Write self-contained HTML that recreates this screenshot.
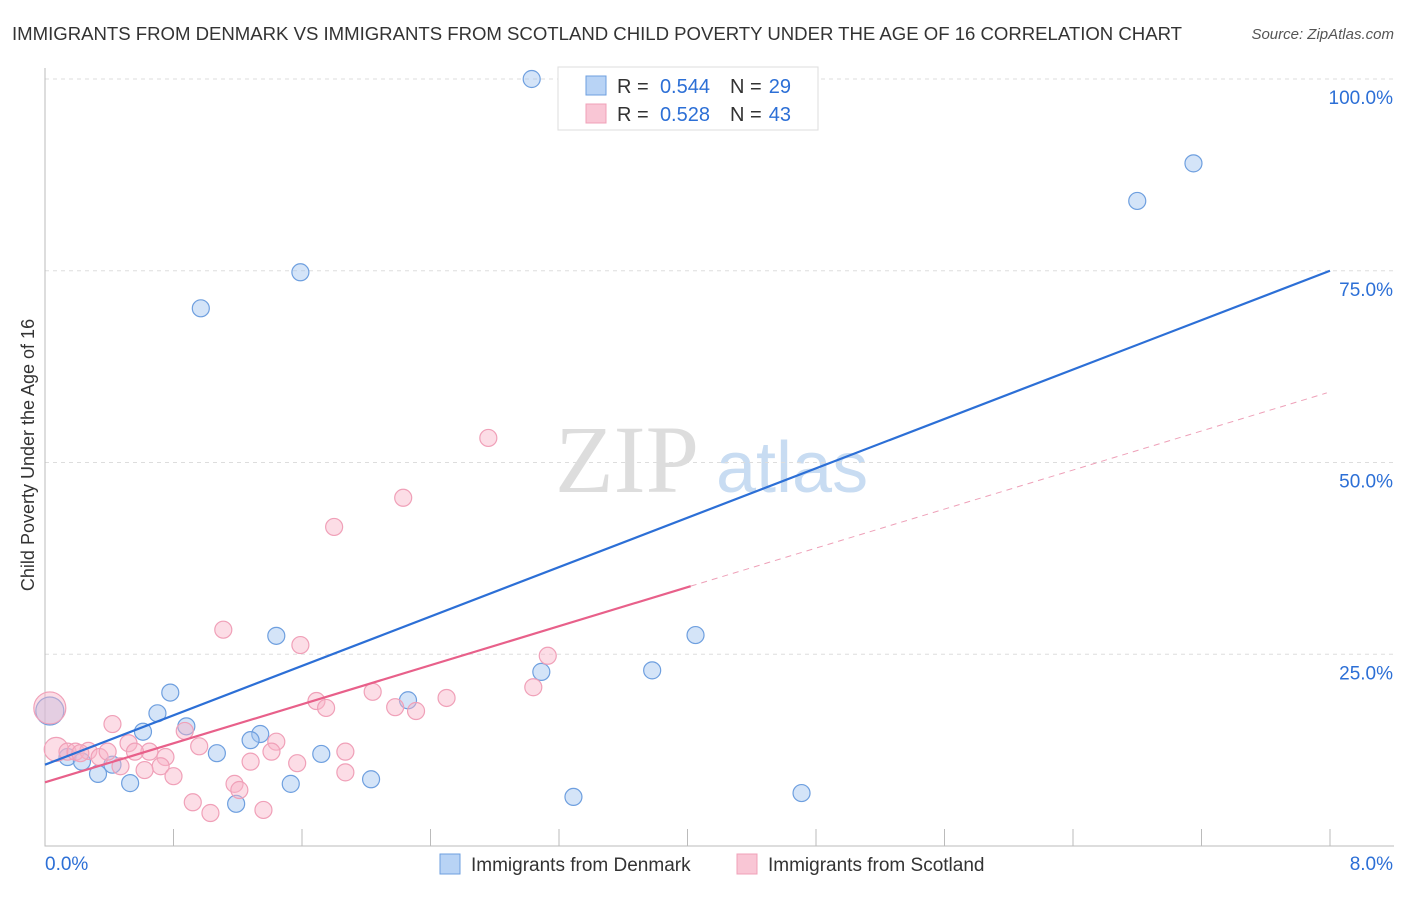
<!DOCTYPE html>
<html><head><meta charset="utf-8"><style>
body{margin:0;background:#fff;font-family:"Liberation Sans",sans-serif;}
</style></head><body>
<svg width="1406" height="892" xmlns="http://www.w3.org/2000/svg" id="chart">
<text x="12" y="40" font-size="18.6" fill="#333" textLength="1170">IMMIGRANTS FROM DENMARK VS IMMIGRANTS FROM SCOTLAND CHILD POVERTY UNDER THE AGE OF 16 CORRELATION CHART</text>
<text x="1394" y="39" font-size="15" fill="#555" font-style="italic" text-anchor="end">Source: ZipAtlas.com</text>
<text x="555" y="492" font-size="96" fill="#ddd" font-family="Liberation Serif">ZIP</text>
<text x="716" y="492" font-size="72" fill="#c8dcf2">atlas</text>
<text transform="translate(34,455) rotate(-90)" font-size="18" fill="#333" text-anchor="middle">Child Poverty Under the Age of 16</text>
<g id="grid"></g><g id="marks"></g>
<g>
<rect x="558" y="67" width="260" height="63" fill="#fff" stroke="#ddd"/>
<rect x="586" y="76" width="20" height="19" fill="#b8d3f5" stroke="#6e9fdf"/>
<rect x="586" y="104" width="20" height="19" fill="#f9c6d5" stroke="#f0a0b8"/>
<text x="617" y="93" font-size="20" fill="#333">R =</text>
<text x="710" y="93" font-size="20" fill="#2c6fd6" text-anchor="end">0.544</text>
<text x="730" y="93" font-size="20" fill="#333">N =</text>
<text x="791" y="93" font-size="20" fill="#2c6fd6" text-anchor="end">29</text>
<text x="617" y="121" font-size="20" fill="#333">R =</text>
<text x="710" y="121" font-size="20" fill="#2c6fd6" text-anchor="end">0.528</text>
<text x="730" y="121" font-size="20" fill="#333">N =</text>
<text x="791" y="121" font-size="20" fill="#2c6fd6" text-anchor="end">43</text>
</g>
<g>
<rect x="440" y="854" width="20" height="20" fill="#b8d3f5" stroke="#6e9fdf"/>
<text x="471" y="871" font-size="19" fill="#333">Immigrants from Denmark</text>
<rect x="737" y="854" width="20" height="20" fill="#f9c6d5" stroke="#f0a0b8"/>
<text x="768" y="871" font-size="19" fill="#333">Immigrants from Scotland</text>
</g>
</svg>
<script>
const yTicks=[100,75,50,25];
const yTickLabels=["100.0%","75.0%","50.0%","25.0%"];
const xTickLabels=["0.0%","8.0%"];
const blueX=[3.03,0.97,1.59,6.80,7.15,1.44,4.05,3.78,3.09,0.78,0.70,0.88,0.61,1.34,1.28,1.07,1.72,2.26,0.14,0.23,0.42,0.33,0.53,1.53,2.03,1.19,3.29,4.71,0.03];
const blueY=[100.0,70.1,74.8,84.1,89.0,27.4,27.5,22.9,22.7,20.0,17.3,15.6,14.9,14.6,13.8,12.1,12.0,19.0,11.6,11.0,10.6,9.4,8.2,8.1,8.7,5.5,6.4,6.9,17.6];
const blueR=[8.5,8.5,8.5,8.5,8.5,8.5,8.5,8.5,8.5,8.5,8.5,8.5,8.5,8.5,8.5,8.5,8.5,8.5,8.5,8.5,8.5,8.5,8.5,8.5,8.5,8.5,8.5,8.5,14];
const pinkX=[2.76,2.23,1.80,1.11,1.59,3.13,3.04,2.50,2.04,1.69,1.75,2.18,2.31,0.42,0.87,0.52,0.96,0.65,0.75,0.56,1.44,1.41,1.87,1.28,1.57,0.47,0.72,0.62,0.80,1.87,1.18,1.21,0.92,1.03,1.36,0.07,0.14,0.19,0.27,0.34,0.03,0.22,0.39];
const pinkY=[53.2,45.4,41.6,28.2,26.2,24.8,20.7,19.3,20.1,18.9,18.0,18.1,17.6,15.9,15.0,13.4,13.0,12.3,11.6,12.3,13.6,12.3,12.3,11.0,10.8,10.4,10.4,9.9,9.1,9.6,8.1,7.3,5.7,4.3,4.7,12.6,12.3,12.3,12.4,11.6,18.0,12.1,12.3];
const pinkR=[8.5,8.5,8.5,8.5,8.5,8.5,8.5,8.5,8.5,8.5,8.5,8.5,8.5,8.5,8.5,8.5,8.5,8.5,8.5,8.5,8.5,8.5,8.5,8.5,8.5,8.5,8.5,8.5,8.5,8.5,8.5,8.5,8.5,8.5,8.5,12,8.5,8.5,8.5,8.5,16,8.5,8.5];
const blueLine=[10.6,75.0];
const pinkLine=[8.3,59.2];
const pinkSolidEnd=4.02;
const X=v=>45+v/8*1285, Y=v=>846-v*7.67;
const NS="http://www.w3.org/2000/svg";
const grid=document.getElementById('grid'), marks=document.getElementById('marks');
function mk(p,tag,a){const e=document.createElementNS(NS,tag);for(const k in a)e.setAttribute(k,a[k]);p.appendChild(e);return e;}
yTicks.forEach((t,i)=>{
 const l=mk(grid,'line',{x1:45,x2:1394,y1:Y(t),y2:Y(t),stroke:'#ddd','stroke-dasharray':'4,4'});
 
 
 const tx=mk(grid,'text',{x:1393,y:Y(t)+25,'font-size':19,fill:'#2c6fd6','text-anchor':'end'});
 tx.textContent=yTickLabels[i];
 
 
});
const ax=mk(grid,'path',{d:'M45 68V846H1394',stroke:'#bbb',fill:'none'});


for(let i=0;i<=10;i++){const t=mk(grid,'line',{x1:X(i*0.8),x2:X(i*0.8),y1:829,y2:846,stroke:'#bbb'});
 
 }
[[0,'start',45],[8,'end',1393]].forEach((d,i)=>{const t=mk(grid,'text',{x:d[2],y:870,'font-size':19,fill:'#2c6fd6','text-anchor':d[1]});t.textContent=xTickLabels[i];
 
 });
function pts(xs,ys,rs,fill,stroke,name){xs.forEach((x,i)=>{const c=mk(marks,'circle',{cx:X(x),cy:Y(ys[i]),r:rs[i],fill:fill,stroke:stroke,'stroke-width':1.2});
 
 });}
pts(blueX,blueY,blueR,'rgba(160,196,240,0.45)','#6e9fdf','denmark-point');
pts(pinkX,pinkY,pinkR,'rgba(248,180,200,0.45)','#f0a0b8','scotland-point');
const pAt=x=>pinkLine[0]+(pinkLine[1]-pinkLine[0])*x/8;
const bl=mk(marks,'line',{x1:X(0),y1:Y(blueLine[0]),x2:X(8),y2:Y(blueLine[1]),stroke:'#2c6fd6','stroke-width':2.2});


const pl=mk(marks,'line',{x1:X(0),y1:Y(pinkLine[0]),x2:X(pinkSolidEnd),y2:Y(pAt(pinkSolidEnd)),stroke:'#e8608a','stroke-width':2.2});


const pd=mk(marks,'line',{x1:X(pinkSolidEnd),y1:Y(pAt(pinkSolidEnd)),x2:X(7.98),y2:Y(pAt(7.98)),stroke:'#eea0b8','stroke-width':1,'stroke-dasharray':'6,5'});


</script>
</body></html>
